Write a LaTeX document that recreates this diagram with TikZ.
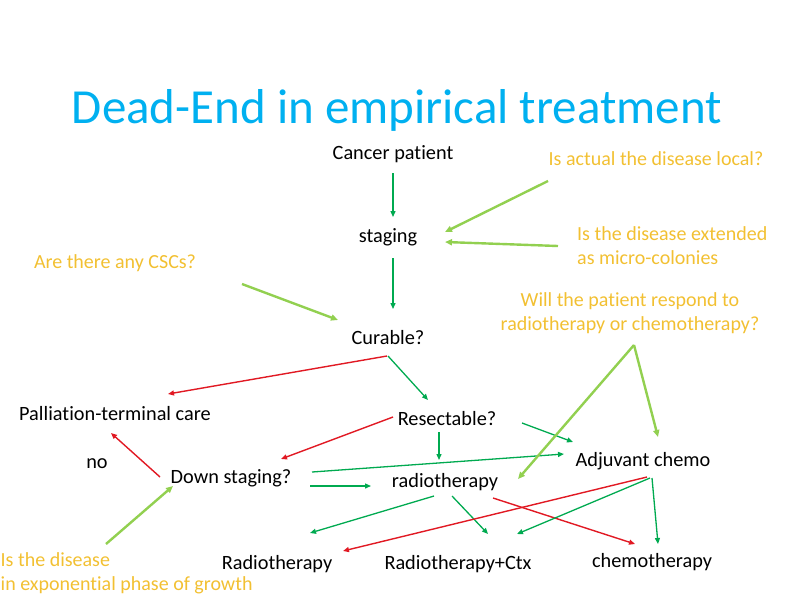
\documentclass[tikz,border=0pt]{standalone}
\usepackage{fontspec}
\setmainfont{Carlito}[RawFeature={-liga;-clig;-calt;-dlig}]
\usetikzlibrary{arrows.meta}
\definecolor{ttl}{RGB}{0,176,240}
\definecolor{qy}{RGB}{242,192,50}
\definecolor{dg}{RGB}{0,170,80}
\definecolor{lg}{RGB}{146,208,80}
\definecolor{rd}{RGB}{225,25,35}
\begin{document}
\begin{tikzpicture}[x=1pt,y=-1pt,
  lbl/.style={inner sep=0pt,font=\fontsize{20.3}{24}\selectfont,text=black},
  qst/.style={inner sep=0pt,font=\fontsize{20}{24}\selectfont,text=qy},
  ga/.style={draw=dg,line width=1.3pt,-{Triangle[length=6pt,width=5pt]}},
  ra/.style={draw=rd,line width=1.4pt,-{Triangle[length=6pt,width=5pt]}},
  la/.style={draw=lg,line width=2.4pt,-{Triangle[length=7pt,width=6pt]}}]
\useasboundingbox (0,0) rectangle (800,600);
\node[inner sep=0pt,text=ttl,font=\fontsize{49}{55}\selectfont] (title) at (397,110) {Dead-End in empirical treatment};
% nodes
\node[lbl] (cp) at (393,154) {Cancer patient};
\node[lbl] (st) at (388,237) {staging};
\node[lbl] (cur) at (388,338) {Curable?};
\node[lbl] (pal) at (115,414) {Palliation-terminal care};
\node[lbl] (res) at (447,419) {Resectable?};
\node[lbl] (no) at (97,464) {no};
\node[lbl] (down) at (231,478) {Down staging?};
\node[lbl] (radio) at (445,482) {radiotherapy};
\node[lbl] (adj) at (643,461) {Adjuvant chemo};
\node[lbl] (R) at (277,564) {Radiotherapy};
\node[lbl] (RC) at (458,564) {Radiotherapy+Ctx};
\node[lbl] (chemo) at (652,562) {chemotherapy};
% questions
\node[qst] (q1) at (656,159) {Is actual the disease local?};
\node[qst,anchor=west,align=left] (q2) at (577,246) {Is the disease extended\\as micro-colonies};
\node[qst] (q3) at (115,263) {Are there any CSCs?};
\node[qst,align=center] (q4) at (630,313) {Will the patient respond to\\radiotherapy or chemotherapy?};
\node[qst,anchor=west,align=left] (q5) at (0.5,573) {Is the disease\\in exponential phase of growth};
% dark green / red arrows
\draw[ga] ([shift={(0,19)}]cp.center) -- ([shift={(5,-20)}]st.center);
\draw[ga] ([shift={(5,21)}]st.center) -- ([shift={(5,-29)}]cur.center);
\draw[ra] ([shift={(-1,18)}]cur.center) -- ([shift={(53,-20)}]pal.center);
\draw[ga] ([shift={(0,18)}]cur.center) -- ([shift={(-19,-19)}]res.center);
\draw[ga] ([shift={(-8,13)}]res.center) -- ([shift={(-6,-22)}]radio.center);
\draw[ga] ([shift={(75,4)}]res.center) -- ([shift={(-70,-19)}]adj.center);
\draw[ra] ([shift={(-54,-2)}]res.center) -- ([shift={(50,-19)}]down.center);
\draw[ra] ([shift={(-71,-1)}]down.center) -- ([shift={(-4,19)}]pal.center);
\draw[ga] ([shift={(81,-6)}]down.center) -- ([shift={(-79,-7)}]adj.center);
\draw[ga] ([shift={(79,8)}]down.center) -- ([shift={(-74,4)}]radio.center);
\draw[ga] ([shift={(-11,14)}]radio.center) -- ([shift={(33,-31)}]R.center);
\draw[ga] ([shift={(7,14)}]radio.center) -- ([shift={(30,-30)}]RC.center);
\draw[ra] ([shift={(48,16)}]radio.center) -- ([shift={(-17,-18)}]chemo.center);
\draw[ra] ([shift={(4,16)}]adj.center) -- ([shift={(66,-13)}]R.center);
\draw[ga] ([shift={(7,17)}]adj.center) -- ([shift={(59,-30)}]RC.center);
\draw[ga] ([shift={(9,17)}]adj.center) -- ([shift={(6,-18)}]chemo.center);
% light green arrows
\draw[la] ([shift={(-108,22)}]q1.center) -- ([shift={(57,-5)}]st.center);
\draw[la] ([shift={(-19,0)}]q2.west) -- ([shift={(57,5)}]st.center);
\draw[la] ([shift={(127,21)}]q3.center) -- ([shift={(-50,-18)}]cur.center);
\draw[la] ([shift={(4,32)}]q4.center) -- ([shift={(73,-3)}]radio.center);
\draw[la] ([shift={(4,32)}]q4.center) -- ([shift={(15,-24)}]adj.center);
\draw[la] ([shift={(105.5,-29)}]q5.west) -- ([shift={(-58,8)}]down.center);
\end{tikzpicture}
\end{document}
